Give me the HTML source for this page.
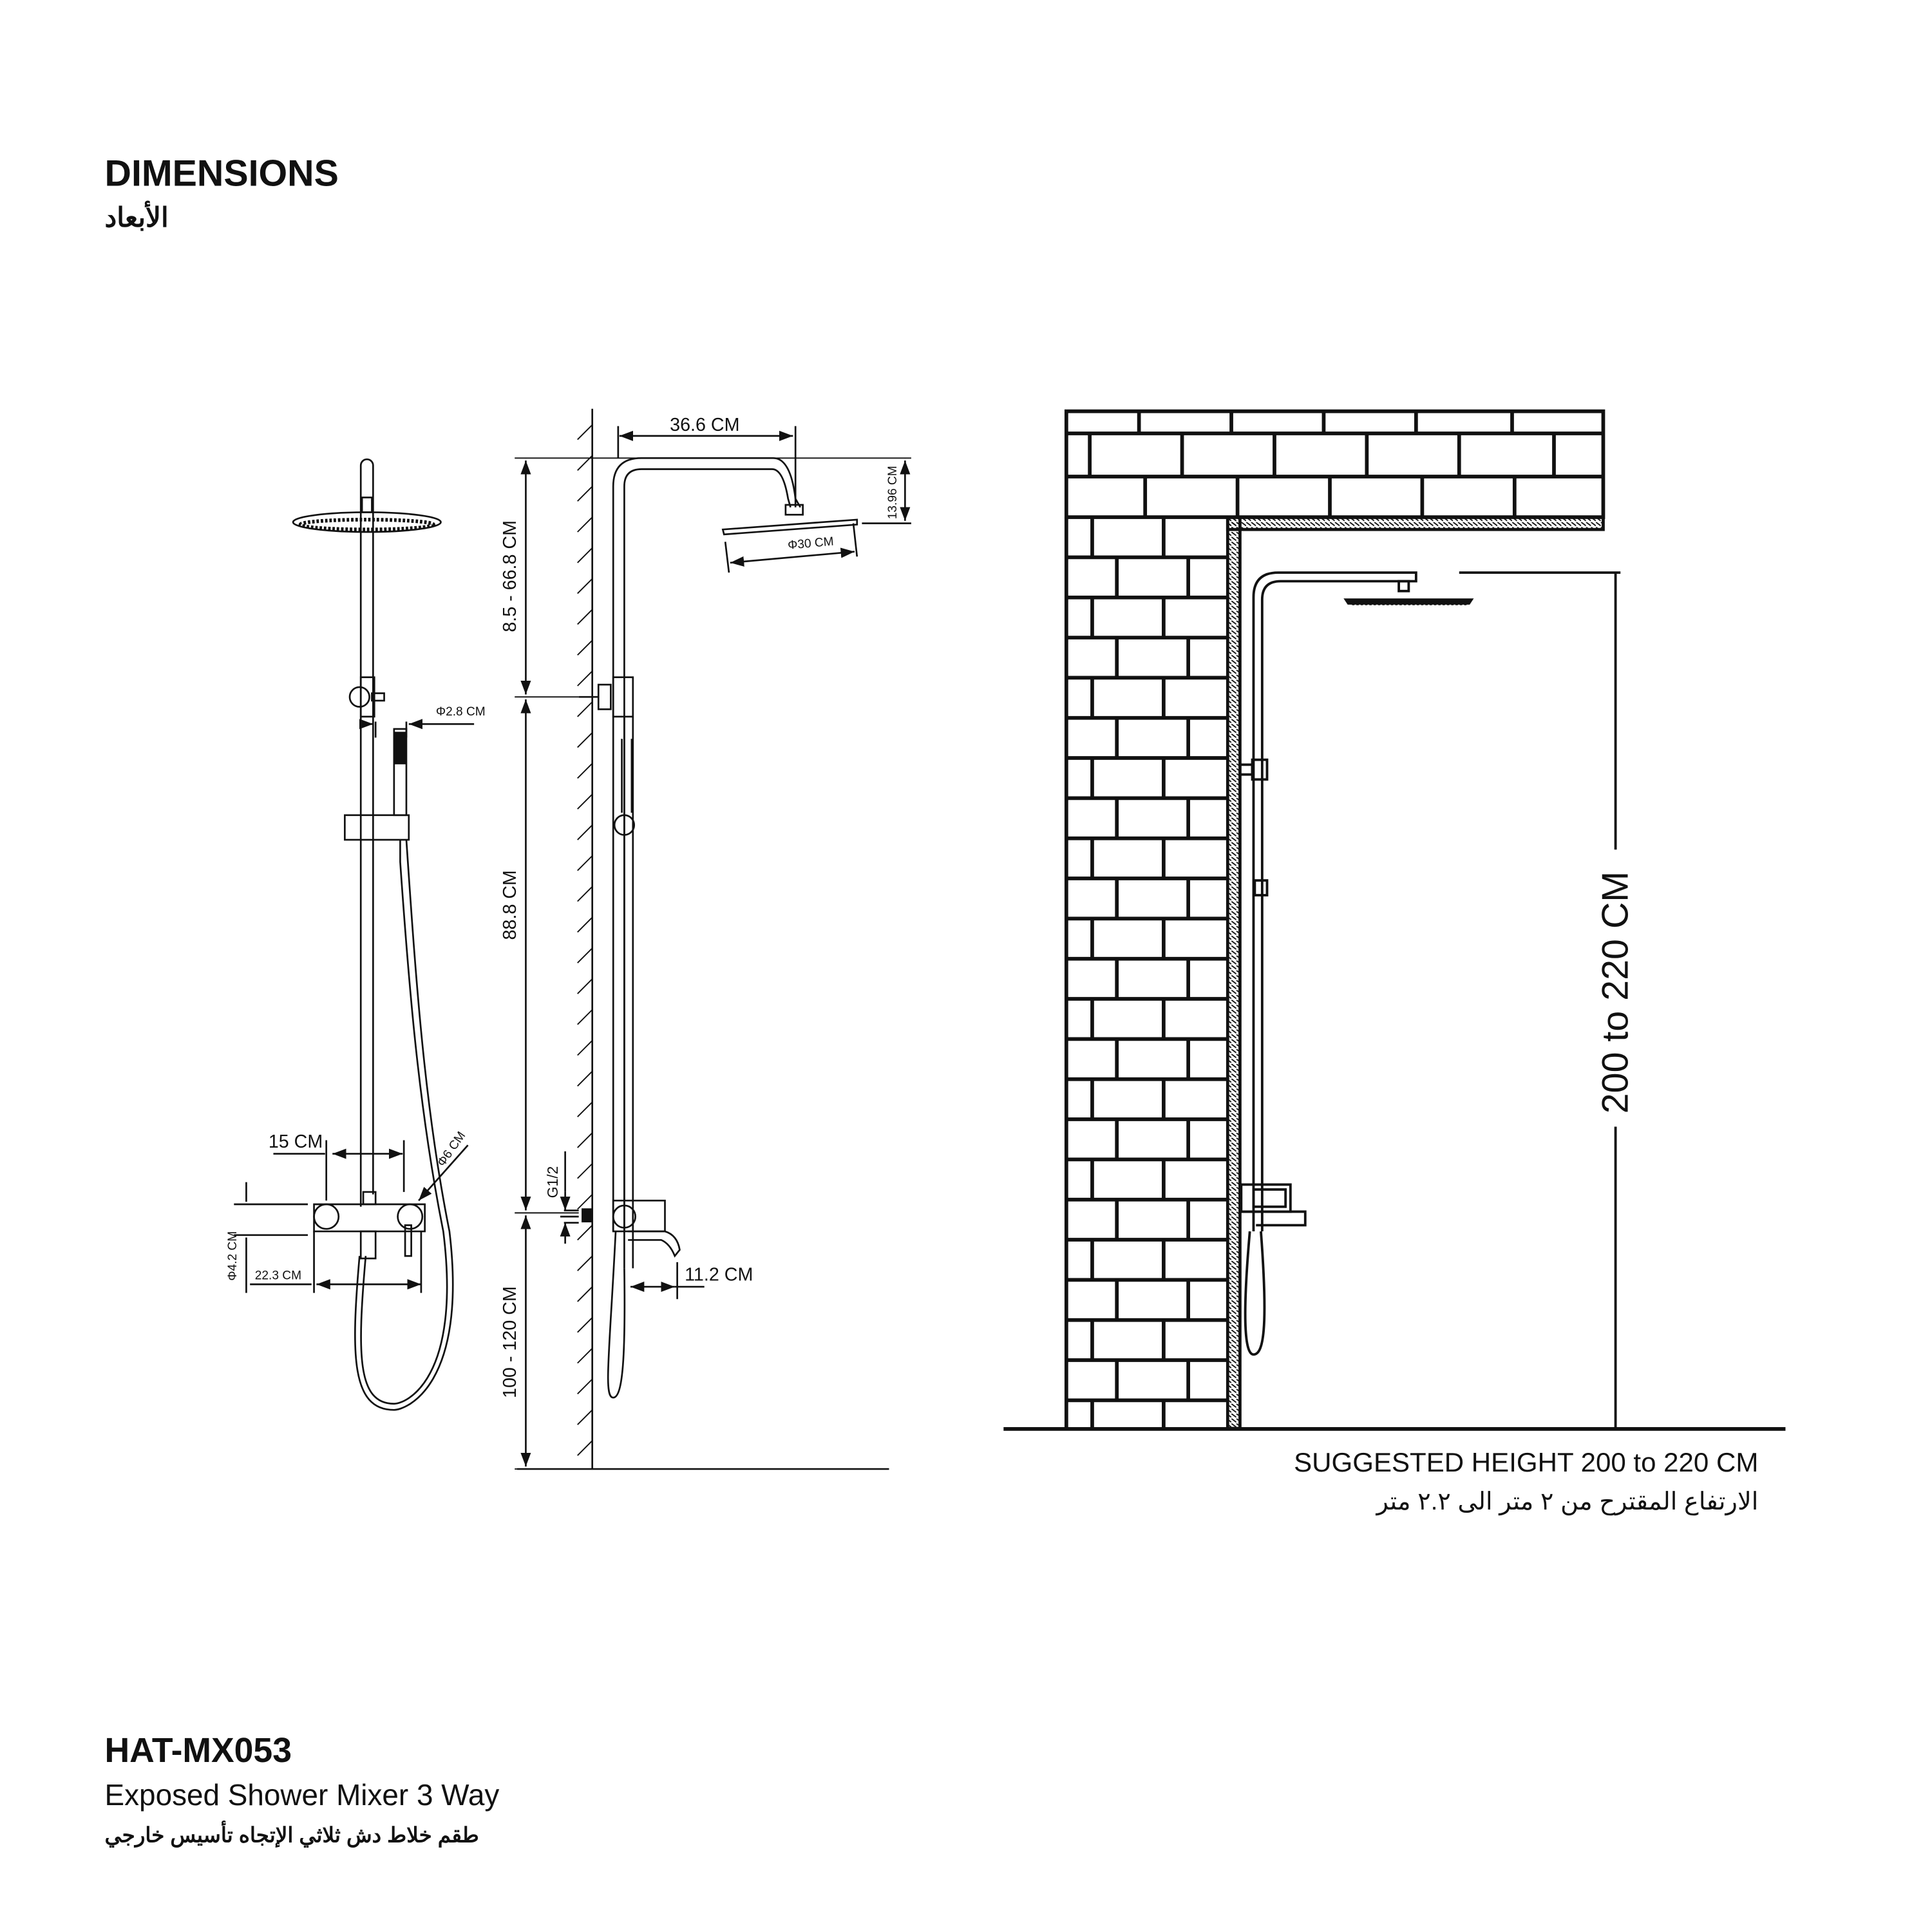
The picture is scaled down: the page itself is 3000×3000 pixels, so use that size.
<!DOCTYPE html>
<html><head><meta charset="utf-8"><style>
html,body{margin:0;padding:0;background:#fff}
svg{display:block}
text{font-family:"Liberation Sans","Noto Sans CJK SC",sans-serif;fill:#111}
</style></head><body>
<svg width="3000" height="3000" viewBox="0 0 1569 1569" xmlns="http://www.w3.org/2000/svg">
<rect width="1569" height="1569" fill="#fff"/>
<defs>
<marker id="ar" markerWidth="8" markerHeight="6" refX="8" refY="3" orient="auto-start-reverse"><path d="M0,0 L8,3 L0,6 z" fill="#111"/></marker>
<pattern id="hv" width="4" height="4" patternUnits="userSpaceOnUse"><path d="M0,0 L4,3" stroke="#111" stroke-width="1"/></pattern>
</defs>
<!-- Titles -->
<text x="85" y="151" font-size="30" font-weight="bold">DIMENSIONS</text>
<text x="85" y="184" font-size="22" font-weight="bold" font-family="DejaVu Sans,sans-serif">الأبعاد</text>
<text x="85" y="1431" font-size="28" font-weight="bold">HAT-MX053</text>
<text x="85" y="1466" font-size="24">Exposed Shower Mixer 3 Way</text>
<text x="85" y="1496" font-size="17" font-weight="bold" font-family="DejaVu Sans,sans-serif">طقم خلاط دش ثلاثي الإتجاه تأسيس خارجي</text>

<g fill="none" stroke="#111" stroke-width="1.4">
<!-- FRONT VIEW -->
<path d="M293,980 V378 a5,5 0 0 1 10,0 V970"/>
<rect x="294" y="404" width="8" height="12"/>
<ellipse cx="298" cy="424" rx="60" ry="8"/>
<ellipse cx="298" cy="426" rx="54" ry="4" stroke-width="3" stroke-dasharray="2,1.5"/>
<rect x="293" y="550" width="11" height="32"/>
<circle cx="292" cy="566" r="8"/>
<rect x="302" y="563" width="10" height="6"/>
<rect x="280" y="662" width="52" height="20"/>
<rect x="320" y="592" width="10" height="70"/>
<rect x="321" y="595" width="8" height="25" fill="#111"/>
<path d="M325,682 V700 C332,800 340,900 360,1000 C375,1120 330,1140 320,1140 C290,1140 290,1100 297,1020"/>
<path d="M330,682 C338,800 345,900 365,1000 C380,1125 330,1145 320,1145 C285,1145 285,1100 292,1020"/>
<path d="M255,978 H345 V1000 H255 Z"/>
<circle cx="265" cy="988" r="10"/>
<circle cx="333" cy="988" r="10"/>
<rect x="295" y="968" width="10" height="10"/>
<rect x="293" y="1000" width="12" height="22"/>
<rect x="329" y="995" width="5" height="25"/>
<!-- front dims -->
<path d="M222,937 H264"/>
<path d="M270,937 H327" marker-start="url(#ar)" marker-end="url(#ar)"/>
<path d="M265,926 V975 M328,926 V968"/>
<path d="M203,1043 H253"/><path d="M257,1043 H342" marker-start="url(#ar)" marker-end="url(#ar)"/>
<path d="M255,1000 V1050 M342,1000 V1050"/>
<path d="M190,978 H250 M190,1003 H250"/>
<path d="M200,960 V976 M200,1005 V1050" />
<path d="M380,930 L340,975" marker-end="url(#ar)"/>
<path d="M305,586 V599 M330,586 V599"/>
<path d="M295,588 H303" marker-end="url(#ar)"/>
<path d="M385,588 H332" marker-end="url(#ar)"/>

<!-- SIDE VIEW -->
<path d="M481,332 V1193"/>
<path d="M420,1193 H722"/>
<path d="M498,1000 V395 Q498,372 521,372 H628 Q642,372 646,405 L650,412 M507,1000 V395 Q507,381 521,381 H627 Q636,381 640,405 L642,412"/>
<rect x="638" y="410" width="14" height="8"/>
<path d="M587,430 L696,422 L696,426 L588,434 Z"/>
<rect x="498" y="550" width="16" height="32"/>
<rect x="486" y="556" width="10" height="20"/>
<path d="M470,566 H486"/>
<path d="M507,582 V1030 M514,582 V1030"/>
<circle cx="507" cy="670" r="8"/>
<path d="M505,600 V660 M513,600 V660"/>
<rect x="498" y="975" width="42" height="25"/>
<circle cx="507" cy="988" r="9"/>
<path d="M510,1000 H540 Q550,1003 552,1015 L548,1020 Q544,1010 537,1007 H510"/>
<path d="M500,1000 C495,1100 490,1135 498,1135 C506,1135 508,1100 507,1030"/>
<rect x="473" y="982" width="7" height="10" fill="#111"/>
<path d="M455,988 H470 M458,983 H470 M458,993 H470"/>
<g stroke-width="1">
<path d="M481,345 l-12,12 M481,370 l-12,12 M481,395 l-12,12 M481,420 l-12,12 M481,445 l-12,12 M481,470 l-12,12 M481,495 l-12,12 M481,520 l-12,12 M481,545 l-12,12 M481,570 l-12,12 M481,595 l-12,12 M481,620 l-12,12 M481,645 l-12,12 M481,670 l-12,12 M481,695 l-12,12 M481,720 l-12,12 M481,745 l-12,12 M481,770 l-12,12 M481,795 l-12,12 M481,820 l-12,12 M481,845 l-12,12 M481,870 l-12,12 M481,895 l-12,12 M481,920 l-12,12 M481,945 l-12,12 M481,970 l-12,12 M481,995 l-12,12 M481,1020 l-12,12 M481,1045 l-12,12 M481,1070 l-12,12 M481,1095 l-12,12 M481,1120 l-12,12 M481,1145 l-12,12 M481,1170 l-12,12"/>
</g>
<path d="M418,372 H740 M418,566 H470 M418,985 H470 M418,1193 H480" stroke-width="1"/>
<path d="M427,374 V564" marker-start="url(#ar)" marker-end="url(#ar)"/>
<path d="M427,568 V983" marker-start="url(#ar)" marker-end="url(#ar)"/>
<path d="M427,987 V1191" marker-start="url(#ar)" marker-end="url(#ar)"/>
<path d="M503,354 H644" marker-start="url(#ar)" marker-end="url(#ar)"/>
<path d="M502,346 V372 M646,346 V412"/>
<path d="M735,374 V423" marker-start="url(#ar)" marker-end="url(#ar)"/>
<path d="M700,425 H740"/>
<path d="M593,457 L694,448" marker-start="url(#ar)" marker-end="url(#ar)"/>
<path d="M589,440 L592,465 M693,425 L696,452"/>
<path d="M459,968 V983" marker-end="url(#ar)"/><path d="M459,1010 V993" marker-end="url(#ar)"/>
<path d="M459,935 V968"/>
<path d="M512,1045 H548" marker-start="url(#ar)" marker-end="url(#ar)"/>
<path d="M550,1025 V1055 M548,1045 H572"/>
</g>
<g font-size="15">
<text x="544" y="350">36.6 CM</text>
<text transform="translate(419,468) rotate(-90)" text-anchor="middle">8.5 - 66.8 CM</text>
<text transform="translate(419,735) rotate(-90)" text-anchor="middle">88.8 CM</text>
<text transform="translate(419,1090) rotate(-90)" text-anchor="middle">100 - 120 CM</text>
<text x="556" y="1040">11.2 CM</text>
<text x="218" y="932">15 CM</text>
</g>
<g font-size="10">
<text transform="translate(728,400) rotate(-90)" text-anchor="middle">13.96 CM</text>
<text transform="translate(640,446) rotate(-5)">Φ30 CM</text>
<text x="354" y="581">Φ2.8 CM</text>
<text x="207" y="1039">22.3 CM</text>
<text transform="translate(192,1020) rotate(-90)" text-anchor="middle">Φ4.2 CM</text>
<text transform="translate(360,948) rotate(-55)">Φ6 CM</text>
<text transform="translate(453,960) rotate(-90)" text-anchor="middle" font-family="Liberation Serif,serif" font-size="12">G1/2</text>
</g>

<!-- RIGHT: BRICK WALL -->
<g fill="none" stroke="#111" stroke-width="3">
<rect x="866" y="334" width="436" height="86"/>
<path d="M866,352 H1302 M866,387 H1302"/>
<path d="M925,334 V352 M1000,334 V352 M1075,334 V352 M1150,334 V352 M1228,334 V352"/>
<path d="M885,352 V387 M960,352 V387 M1035,352 V387 M1110,352 V387 M1185,352 V387 M1262,352 V387"/>
<path d="M930,387 V420 M1005,387 V420 M1080,387 V420 M1155,387 V420 M1230,387 V420"/>
<path d="M866,420 V1160"/>
</g>
<g stroke="#111" stroke-width="3" fill="none">
<path d="M866,452.6 H997 M866,485.2 H997 M866,517.8 H997 M866,550.4 H997 M866,583 H997 M866,615.6 H997 M866,648.2 H997 M866,680.8 H997 M866,713.4 H997 M866,746 H997 M866,778.6 H997 M866,811.2 H997 M866,843.8 H997 M866,876.4 H997 M866,909 H997 M866,941.6 H997 M866,974.2 H997 M866,1006.8 H997 M866,1039.4 H997 M866,1072 H997 M866,1104.6 H997 M866,1137.2 H997"/>
<path d="M887,420 V452.6 M945,420 V452.6 M887,485.2 V517.8 M945,485.2 V517.8 M887,550.4 V583 M945,550.4 V583 M887,615.6 V648.2 M945,615.6 V648.2 M887,680.8 V713.4 M945,680.8 V713.4 M887,746 V778.6 M945,746 V778.6 M887,811.2 V843.8 M945,811.2 V843.8 M887,876.4 V909 M945,876.4 V909 M887,941.6 V974.2 M945,941.6 V974.2 M887,1006.8 V1039.4 M945,1006.8 V1039.4 M887,1072 V1104.6 M945,1072 V1104.6 M887,1137.2 V1160 M945,1137.2 V1160"/>
<path d="M907,452.6 V485.2 M965,452.6 V485.2 M907,517.8 V550.4 M965,517.8 V550.4 M907,583 V615.6 M965,583 V615.6 M907,648.2 V680.8 M965,648.2 V680.8 M907,713.4 V746 M965,713.4 V746 M907,778.6 V811.2 M965,778.6 V811.2 M907,843.8 V876.4 M965,843.8 V876.4 M907,909 V941.6 M965,909 V941.6 M907,974.2 V1006.8 M965,974.2 V1006.8 M907,1039.4 V1072 M965,1039.4 V1072 M907,1104.6 V1137.2 M965,1104.6 V1137.2"/>
</g>
<rect x="997" y="420" width="10" height="740" fill="url(#hv)" stroke="#111" stroke-width="2.5"/>
<rect x="997" y="420" width="305" height="10" fill="url(#hv)" stroke="#111" stroke-width="2.5"/>
<path d="M815,1160.5 H1450" stroke="#111" stroke-width="3"/>
<g fill="none" stroke="#111" stroke-width="2">
<path d="M1018,1000 V485 Q1018,465 1038,465 H1150 V472 H1040 Q1025,472 1025,487 V1000"/>
<rect x="1136" y="472" width="8" height="8"/>
<path d="M1093,487 H1195 L1193,490 H1095 Z" fill="#111"/>
<path d="M1098,490 H1192" stroke-dasharray="2,1.5" stroke-width="3"/>
<rect x="1017" y="617" width="12" height="16"/>
<rect x="1007" y="621" width="10" height="8"/>
<rect x="1019" y="715" width="10" height="12"/>
<rect x="1008" y="962" width="40" height="22"/>
<rect x="1018" y="966" width="26" height="14"/>
<path d="M1008,984 H1060 V995 H1020"/>
<path d="M1015,1000 C1008,1080 1012,1100 1018,1100 C1026,1100 1030,1080 1024,1000"/>
</g>
<path d="M1185,465 H1316 M1312,465 V690 M1312,915 V1160" stroke="#111" stroke-width="2" fill="none"/>
<text transform="translate(1322,806) rotate(-90)" text-anchor="middle" font-size="30">200 to 220 CM</text>
<text x="1428" y="1195" text-anchor="end" font-size="22">SUGGESTED HEIGHT 200 to 220 CM</text>
<text x="1428" y="1226" text-anchor="end" font-size="20" font-family="DejaVu Sans,sans-serif">الارتفاع المقترح من ٢ متر الى ٢.٢ متر</text>
</svg>
</body></html>
